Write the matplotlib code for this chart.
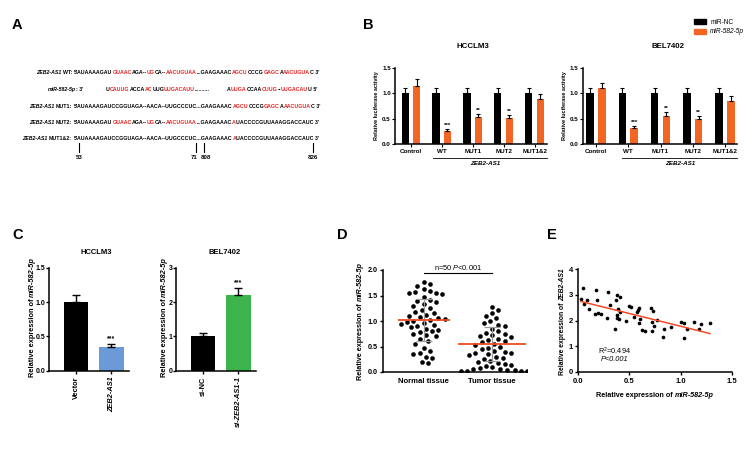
import matplotlib
matplotlib.use("Agg")
import matplotlib.pyplot as plt
import numpy as np
from matplotlib.lines import Line2D
from matplotlib.patches import Patch

W, H = 752, 450

BLACK = "#000000"
ORANGE = "#f26522"
SEQ_RED = "#e8231f"
BLUE = "#6b9bd6"
GREEN = "#3cb44b"
LINE_RED = "#f04a22"
GRAY = "#9a9a9a"

# ---- panel A: sequence alignment (text, colour code: k black / r red)
SEQ_LABELS = [("ZEB2-AS1", "WT:"), ("miR-582-5p", ": 3'"), ("ZEB2-AS1", "MUT1:"),
              ("ZEB2-AS1", "MUT2:"), ("ZEB2-AS1", "MUT1&2:")]
SEQ_WT = [("5'AUAAAAGAU", "k"), ("GUAAC", "r"), ("AGA--", "k"), ("UG", "r"), ("CA--", "k"),
          ("AACUGUAA", "r"), ("...GAAGAAAC", "k"), ("AGCU", "r"), ("CCCG", "k"), ("GAGC", "r"),
          ("A", "k"), ("AACUGUA", "r"), ("C 3'", "k")]
SEQ_MIR_LEFT = [("U", "k"), ("CAUUG", "r"), ("ACCA", "k"), ("AC", "r"), ("UUG", "k"),
                ("UUGACAUU", "r"), ("..........", "k")]
SEQ_MIR_RIGHT = [("A", "k"), ("UUGA", "r"), ("CCAA", "k"), ("CUUG", "r"), ("--", "k"),
                 ("UUGACAU", "r"), ("U 5'", "k")]
SEQ_MUT1 = [("5'AUAAAAGAUCCGGUAGA--AACA--UUGCCCUC...GAAGAAAC", "k"), ("AGCU", "r"),
            ("CCCG", "k"), ("GAGC", "r"), ("A", "k"), ("AACUGUA", "r"), ("C 3'", "k")]
SEQ_MUT2 = [("5'AUAAAAGAU", "k"), ("GUAAC", "r"), ("AGA--", "k"), ("UG", "r"), ("CA--", "k"),
            ("AACUGUAA", "r"), ("...GAAGAAAC", "k"), ("A", "r"), ("UACCCCGUUAAAGGACCAUC 3'", "k")]
SEQ_MUT12 = [("5'AUAAAAGAUCCGGUAGA--AACA--UUGCCCUC...GAAGAAAC", "k"), ("A", "r"),
             ("UACCCCGUUAAAGGACCAUC 3'", "k")]
SITE_LABELS = ["53", "71", "808", "826"]

# ---- panel B: luciferase activity
B_GROUPS = ["Control", "WT", "MUT1", "MUT2", "MUT1&2"]
B_HCC_NC = [1.0, 1.0, 1.0, 1.0, 1.0]
B_HCC_NC_ERR = [0.1, 0.1, 0.1, 0.1, 0.1]
B_HCC_MIR = [1.15, 0.26, 0.54, 0.51, 0.88]
B_HCC_MIR_ERR = [0.13, 0.04, 0.06, 0.06, 0.10]
B_BEL_NC = [1.0, 1.0, 1.0, 1.0, 1.0]
B_BEL_NC_ERR = [0.1, 0.1, 0.1, 0.1, 0.1]
B_BEL_MIR = [1.10, 0.31, 0.56, 0.49, 0.85]
B_BEL_MIR_ERR = [0.11, 0.05, 0.07, 0.06, 0.10]
B_STARS = ["", "***", "**", "**", ""]

# ---- panel C: miR-582-5p expression
C_HCC_LABELS = ["Vector", "ZEB2-AS1"]
C_HCC_VALUES = [1.0, 0.345]
C_HCC_ERR = [0.1, 0.04]
C_BEL_LABELS = ["si-NC", "si-ZEB2-AS1-1"]
C_BEL_VALUES = [1.0, 2.2]
C_BEL_ERR = [0.1, 0.22]

# ---- panel D: tissue scatter
D_GROUPS = ["Normal tissue", "Tumor tissue"]
D_NORMAL = [1.77, 1.73, 1.68, 1.62, 1.58, 1.56, 1.55, 1.54, 1.52, 1.47, 1.42, 1.40, 1.38,
            1.34, 1.30, 1.26, 1.22, 1.18, 1.15, 1.12, 1.10, 1.07, 1.05, 1.04, 1.02, 1.00,
            0.98, 0.97, 0.95, 0.92, 0.90, 0.88, 0.85, 0.82, 0.80, 0.78, 0.75, 0.72, 0.70,
            0.65, 0.60, 0.55, 0.48, 0.42, 0.38, 0.35, 0.30, 0.28, 0.20, 0.18]
D_TUMOR = [1.28, 1.22, 1.15, 1.10, 1.05, 1.00, 0.97, 0.93, 0.90, 0.85, 0.80, 0.76, 0.75,
           0.72, 0.70, 0.68, 0.65, 0.62, 0.60, 0.58, 0.55, 0.52, 0.50, 0.48, 0.45, 0.42,
           0.40, 0.38, 0.38, 0.35, 0.33, 0.30, 0.28, 0.25, 0.22, 0.20, 0.18, 0.16, 0.14,
           0.12, 0.10, 0.08, 0.06, 0.05, 0.04, 0.03, 0.02, 0.02, 0.01, 0.01]
D_MEANS = [1.02, 0.55]
D_SDS = [0.42, 0.34]

# ---- panel E: correlation
E_X = [0.03, 0.05, 0.06, 0.09, 0.11, 0.17, 0.18, 0.185, 0.19, 0.22, 0.28, 0.29, 0.31, 0.36,
       0.37, 0.38, 0.38, 0.38, 0.39, 0.40, 0.41, 0.41, 0.47, 0.50, 0.52, 0.55, 0.57, 0.58,
       0.59, 0.59, 0.60, 0.62, 0.65, 0.71, 0.72, 0.72, 0.73, 0.74, 0.77, 0.83, 0.84, 0.91,
       1.00, 1.035, 1.035, 1.065, 1.13, 1.18, 1.20, 1.285]
E_Y = [2.83, 3.25, 2.63, 2.80, 2.43, 2.25, 3.18, 2.78, 2.30, 2.24, 2.08, 3.12, 2.60, 1.66,
       2.80, 2.99, 2.21, 2.08, 2.45, 2.06, 2.90, 2.34, 1.98, 2.55, 2.54, 2.15, 2.34, 2.42,
       2.50, 1.89, 2.06, 1.63, 1.59, 2.50, 1.95, 1.59, 2.37, 1.79, 2.02, 1.37, 1.66, 1.76,
       1.95, 1.89, 1.33, 1.67, 1.93, 1.67, 1.86, 1.91]

plt.rcParams.update({
    "font.family": ["Liberation Sans", "DejaVu Sans"],
    "font.weight": "bold",
    "axes.labelweight": "bold",
    "axes.linewidth": 1.1,
    "xtick.major.width": 1.0,
    "ytick.major.width": 1.0,
    "xtick.major.size": 2.5,
    "ytick.major.size": 2.5,
    "xtick.major.pad": 1.5,
    "ytick.major.pad": 1.0,
    "mathtext.fontset": "custom",
    "mathtext.rm": "Liberation Sans:weight=normal",
    "mathtext.it": "Liberation Sans:style=italic:weight=normal",
    "mathtext.bf": "Liberation Sans:weight=bold",
})

fig = plt.figure(figsize=(W / 100, H / 100), dpi=100)
renderer = fig.canvas.get_renderer()


def fx(x):
    return x / W


def fy(y):
    return 1 - y / H


def px_axes(left, top, right, bottom):
    ax = fig.add_axes([fx(left), fy(bottom), (right - left) / W, (bottom - top) / H])
    ax.spines[["top", "right"]].set_visible(False)
    return ax


def rich_text(x, y, parts, size, ha="left", rotation=0):
    # parts: (text, colour, style) chained along the baseline; a leading space becomes a gap
    # horizontal: y is the visual middle of capitals; rotated: x is the baseline
    space = 0.278 * size * 100 / 72
    items, gaps = [], []
    for text, color, style in parts:
        color = {"k": BLACK, "r": SEQ_RED}.get(color, color)
        gaps.append(space if text.startswith(" ") else 0.0)
        t = fig.text(0, 0, text.lstrip(" "), color=color, fontsize=size, style=style,
                     ha="left", va="baseline", rotation=rotation, rotation_mode="anchor")
        items.append(t)
    lengths = []
    for t in items:
        bb = t.get_window_extent(renderer)
        lengths.append(bb.height if rotation else bb.width)
    total = sum(lengths) + sum(gaps)
    if rotation:
        pos = y + total / 2 if ha == "center" else y
        for t, g, L in zip(items, gaps, lengths):
            pos -= g
            t.set_position((fx(x), fy(pos)))
            pos -= L
    else:
        base = y + 0.36 * size * 100 / 72
        pos = {"left": x, "right": x - total, "center": x - total / 2}[ha]
        for t, g, L in zip(items, gaps, lengths):
            pos += g
            t.set_position((fx(pos), fy(base)))
            pos += L
    return total


def seq_parts(seq):
    return [(s, c, "normal") for s, c in seq]


# ================= Panel A =================
fig.text(fx(12), fy(25), "A", fontsize=10.5, va="center")
seq_size = 3.9
probe = fig.text(0, 0, "".join(s for s, _ in SEQ_WT), fontsize=seq_size)
seq_size *= 245 / probe.get_window_extent(renderer).width
probe.remove()

rows_y = [72, 89.5, 106.5, 122, 138]
for (ital, rest), y in zip(SEQ_LABELS, rows_y):
    if ital.startswith("miR"):
        rich_text(83, y, [(ital, "k", "italic"), (rest, "k", "normal")], seq_size, ha="right")
    else:
        rich_text(72, y, [(ital, "k", "italic"), (" " + rest, "k", "normal")], seq_size, ha="right")

rich_text(74, rows_y[0], seq_parts(SEQ_WT), seq_size)
rich_text(106, rows_y[1], seq_parts(SEQ_MIR_LEFT), seq_size)
rich_text(227, rows_y[1], seq_parts(SEQ_MIR_RIGHT), seq_size)
rich_text(74, rows_y[2], seq_parts(SEQ_MUT1), seq_size)
rich_text(74, rows_y[3], seq_parts(SEQ_MUT2), seq_size)
rich_text(74, rows_y[4], seq_parts(SEQ_MUT12), seq_size)

site_ticks = [79, 196, 204, 313]
site_text = [(79, "center"), (197.5, "right"), (200.5, "left"), (313, "center")]
for label, x, (tx, align) in zip(SITE_LABELS, site_ticks, site_text):
    fig.add_artist(Line2D([fx(x), fx(x)], [fy(143), fy(151.5)], color=BLACK, lw=0.8))
    fig.text(fx(tx), fy(157.5), label, fontsize=4.4, ha=align, va="center")

# ================= Panel B =================
fig.text(fx(363), fy(25), "B", fontsize=10.5, va="center")


def luciferase(ax, nc, nc_err, mir, mir_err, xlim, title, title_x, line_from, label_x):
    x = np.arange(len(B_GROUPS))
    ekw = dict(capsize=1.4, elinewidth=0.8, capthick=0.8, ecolor=BLACK)
    ax.bar(x - 0.185, nc, 0.23, color=BLACK, yerr=[np.zeros(5), nc_err], error_kw=ekw, zorder=2)
    ax.bar(x + 0.185, mir, 0.23, color=ORANGE, yerr=[np.zeros(5), mir_err], error_kw=ekw, zorder=2)
    for xi, v, e, s in zip(x, mir, mir_err, B_STARS):
        if s:
            ax.text(xi + 0.185, v + e + 0.02, s, fontsize=4.5, ha="center", va="bottom")
    ax.set_xlim(*xlim)
    ax.set_ylim(0, 1.5)
    ax.set_yticks([0, 0.5, 1.0, 1.5])
    ax.set_yticklabels([f"{v:.1f}" for v in [0, 0.5, 1.0, 1.5]], fontsize=4.5)
    ax.set_xticks(x)
    ax.set_xticklabels(B_GROUPS, fontsize=4.5)
    ax.tick_params(length=2, width=0.8)
    ax.set_ylabel("Relative luciferase activity", fontsize=4.0, labelpad=2)
    tr = ax.get_xaxis_transform()
    ax.plot([line_from, xlim[1]], [-0.18, -0.18], color=BLACK, lw=0.6, transform=tr, clip_on=False)
    ax.text(label_x, -0.245, "ZEB2-AS1", style="italic", fontsize=4.5, ha="center",
            va="center", transform=tr)
    fig.text(fx(title_x), fy(47), title, fontsize=5.7, ha="center", va="center")


ax_b1 = px_axes(395, 67.7, 546.7, 144.3)
luciferase(ax_b1, B_HCC_NC, B_HCC_NC_ERR, B_HCC_MIR, B_HCC_MIR_ERR, (-0.51, 4.39),
           "HCCLM3", 473, 0.73, 2.4)
ax_b2 = px_axes(582.7, 67.7, 736.7, 144.3)
luciferase(ax_b2, B_BEL_NC, B_BEL_NC_ERR, B_BEL_MIR, B_BEL_MIR_ERR, (-0.41, 4.36),
           "BEL7402", 668, 0.8, 2.6)

leg = ax_b2.legend(handles=[Patch(color=BLACK), Patch(color=ORANGE)],
                   labels=["miR-NC", "miR-582-5p"],
                   loc="upper left", bbox_to_anchor=(fx(694), fy(19)),
                   bbox_transform=fig.transFigure, frameon=False,
                   prop={"size": 4.7, "weight": "normal"}, handlelength=1.9,
                   handleheight=0.8, labelspacing=0.35, borderpad=0, borderaxespad=0,
                   handletextpad=0.6)
leg.get_texts()[1].set_style("italic")

# ================= Panel C =================
fig.text(fx(12), fy(235), "C", fontsize=10.5, va="center")
ylab_mir = [("Relative expression of", "k", "normal"), (" miR-582-5p", "k", "italic")]


def expression(ax, labels, values, err, colors, ylim, ticks, fmt, title, title_x, label_x):
    x = np.arange(len(values))
    ax.bar(x, values, 0.7, color=colors, yerr=[np.zeros(len(values)), err],
           error_kw=dict(capsize=3.2, elinewidth=1.0, capthick=1.0, ecolor=BLACK), zorder=2)
    ax.set_xlim(-0.77, 1.5)
    ax.set_ylim(*ylim)
    ax.set_yticks(ticks)
    ax.set_yticklabels([fmt.format(t) for t in ticks], fontsize=5.0)
    ax.tick_params(axis="y", length=2, pad=0.6)
    ax.set_xticks(x)
    ax.set_xticklabels(labels, rotation=90, fontsize=5.3)
    ax.get_xticklabels()[1].set_style("italic")
    ax.text(1, values[1] + err[1] + ylim[1] * 0.015, "***", fontsize=5, ha="center", va="bottom")
    fig.text(fx(title_x), fy(252), title, fontsize=5.5, ha="center", va="center")
    rich_text(label_x, 317, ylab_mir, 5.3, ha="center", rotation=90)


ax_c1 = px_axes(49, 267.7, 129, 370.7)
expression(ax_c1, C_HCC_LABELS, C_HCC_VALUES, C_HCC_ERR, [BLACK, BLUE], (0, 1.5),
           [0, 0.5, 1.0, 1.5], "{:.1f}", "HCCLM3", 96, 33.8)
ax_c2 = px_axes(176, 267.7, 256, 370.7)
expression(ax_c2, C_BEL_LABELS, C_BEL_VALUES, C_BEL_ERR, [BLACK, GREEN], (0, 3),
           [0, 1, 2, 3], "{:.0f}", "BEL7402", 225, 166)

# ================= Panel D =================
fig.text(fx(337), fy(235), "D", fontsize=10.5, va="center")
ax_d = px_axes(382.7, 270, 527, 372)
x_scale, y_scale, gap = 68.0, 51.0, 6.2


def swarm(values):
    placed, offsets = [], []
    steps = [0.0] + [s * k * gap / 3 for k in range(1, 60) for s in (1, -1)]
    for v in values:
        y = v * y_scale
        for c in steps:
            if all((c - px) ** 2 + (y - py) ** 2 >= gap ** 2 for px, py in placed):
                break
        placed.append((c, y))
        offsets.append(c / x_scale)
    return np.array(offsets)


for pos, vals, mean, sd, hw in zip([1, 2], [D_NORMAL, D_TUMOR], D_MEANS, D_SDS, [0.38, 0.5]):
    vals = np.array(vals)
    ax_d.scatter(pos + swarm(vals), vals, s=11, color=BLACK, linewidths=0, zorder=2)
    ax_d.errorbar(pos, mean, yerr=sd, color=GRAY, capsize=6, elinewidth=0.9, capthick=0.9, zorder=3)
    ax_d.hlines(mean, pos - hw, pos + hw, color=LINE_RED, lw=1.3, zorder=4)

ax_d.set_xlim(0.4, 2.51)
ax_d.set_ylim(0, 2.0)
ax_d.set_yticks([0, 0.5, 1.0, 1.5, 2.0])
ax_d.set_yticklabels([f"{v:.1f}" for v in [0, 0.5, 1.0, 1.5, 2.0]], fontsize=5.2)
ax_d.set_xticks([1, 2])
ax_d.set_xticklabels(D_GROUPS, fontsize=5.6)
ax_d.tick_params(axis="x", length=0, pad=4)
rich_text(362, 321, ylab_mir, 5.2, ha="center", rotation=90)
ax_d.plot([1, 2], [1.94, 1.94], color=BLACK, lw=0.8, clip_on=False)
ax_d.text(1.5, 1.97, r"n=50 $\mathit{P}$<0.001", fontsize=5.3, fontweight="normal",
          ha="center", va="bottom")

# ================= Panel E =================
fig.text(fx(547), fy(235), "E", fontsize=10.5, va="center")
ax_e = px_axes(578, 269, 732, 372)
ax_e.scatter(E_X, E_Y, s=7, color=BLACK, linewidths=0, zorder=2)
slope, intercept = np.polyfit(E_X, E_Y, 1)
fit_x = np.array([min(E_X), max(E_X)])
ax_e.plot(fit_x, slope * fit_x + intercept, color=LINE_RED, lw=1.1, zorder=3)
ax_e.set_xlim(0, 1.5)
ax_e.set_ylim(0, 4)
ax_e.set_xticks([0, 0.5, 1.0, 1.5])
ax_e.set_xticklabels([f"{v:.1f}" for v in [0, 0.5, 1.0, 1.5]], fontsize=5.5)
ax_e.set_yticks([0, 1, 2, 3, 4])
ax_e.set_yticklabels([str(v) for v in [0, 1, 2, 3, 4]], fontsize=5.5)
rich_text(655, 394, ylab_mir, 5.2, ha="center")
rich_text(564, 322, [("Relative expression of", "k", "normal"), (" ZEB2-AS1", "k", "italic")],
          4.9, ha="center", rotation=90)
ax_e.text(0.36, 0.82, r"R$^2$=0.494", fontsize=5.3, fontweight="normal", ha="center", va="center")
ax_e.text(0.36, 0.48, "P<0.001", fontsize=5.3, fontweight="normal", style="italic",
          ha="center", va="center")

fig.savefig("out.png", dpi=100)
